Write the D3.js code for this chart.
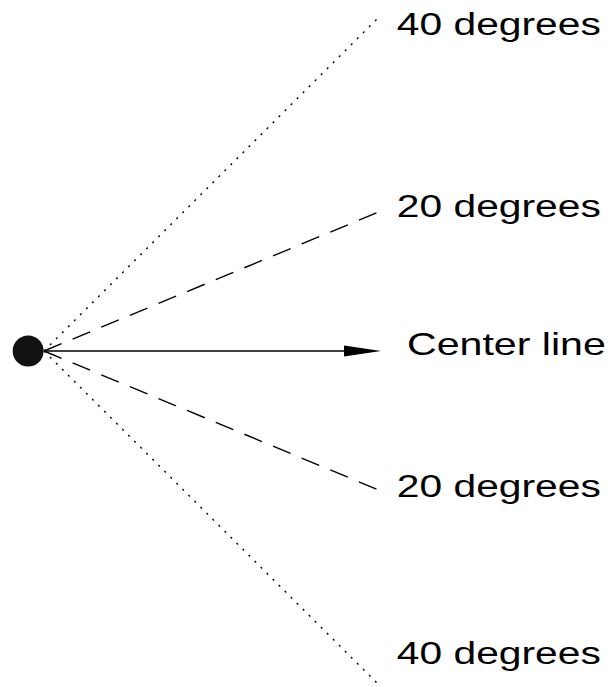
<!DOCTYPE html>
<html>
<head>
<meta charset="utf-8">
<script src="https://cdn.jsdelivr.net/npm/d3@7"></script>
<style>
  html, body { margin: 0; padding: 0; background: #fff; }
  svg { display: block; }
</style>
</head>
<body>
<script>
// ---- data ----
const lineNames   = ["40 degrees", "20 degrees", "Center line", "20 degrees", "40 degrees"];
const lineEndY    = [0.84, 0.35, 0, -0.35, -0.84];   // y at x = 1 (data units)
const lineEndX    = [1, 1, 1, 1, 1];
const lineKind    = ["dotted", "dashed", "solid", "dashed", "dotted"];
const labelY      = [0.79, 0.335, -0.01, -0.365, -0.7825]; // baseline anchor (data units)
const labelX      = [1.047, 1.047, 1.077, 1.047, 1.047];
const originPoint = [-0.047, 0];

// ---- layout ----
const W = 611, H = 687;
const x = d3.scaleLinear().domain([0, 1]).range([44, 381]);
const y = d3.scaleLinear().domain([-1, 1]).range([351 + 400, 351 - 400]);

const svg = d3.select("body").append("svg")
  .attr("width", W).attr("height", H);

const dashFor = { dotted: "2,6.5", dashed: "19,12", solid: null };

const lines = lineNames.map((n, i) => ({ name: n, x1: lineEndX[i], y1: lineEndY[i], kind: lineKind[i], lx: labelX[i], ly: labelY[i] }));

// rays
svg.append("g").selectAll("line")
  .data(lines)
  .join("line")
  .attr("x1", x(0))
  .attr("y1", y(0))
  .attr("x2", d => d.kind === "solid" ? x(d.x1) - 36 : x(d.x1))
  .attr("y2", d => y(d.y1))
  .attr("stroke", "#000")
  .attr("stroke-width", d => d.kind === "solid" ? 1.6 : 1.4)
  .attr("stroke-dasharray", d => dashFor[d.kind]);

// arrowhead on center line
lines.filter(d => d.kind === "solid").forEach(d => {
  const tx = x(d.x1), ty = y(d.y1);
  svg.append("path")
    .attr("d", `M${tx},${ty} L${tx - 37},${ty - 5.5} L${tx - 37},${ty + 5.5} Z`)
    .attr("fill", "#000");
});

// origin dot
svg.append("circle")
  .attr("cx", x(originPoint[0]))
  .attr("cy", y(originPoint[1]))
  .attr("r", 15.5)
  .attr("fill", "#111");

// labels (glyphs horizontally stretched, as in the reference)
const labels = svg.append("g").selectAll("text")
  .data(lines)
  .join("text")
  .attr("font-family", "Liberation Sans, Arial, sans-serif")
  .attr("font-size", 31)
  .attr("fill", "#000")
  .text(d => d.name);

labels.each(function(d) {
  const target = d.kind === "solid" ? 199 : 204;
  const w = this.getComputedTextLength();
  const sx = target / w;
  d3.select(this).attr("transform", `translate(${x(d.lx)},${y(d.ly)}) scale(${sx},1)`);
});
</script>
</body>
</html>
